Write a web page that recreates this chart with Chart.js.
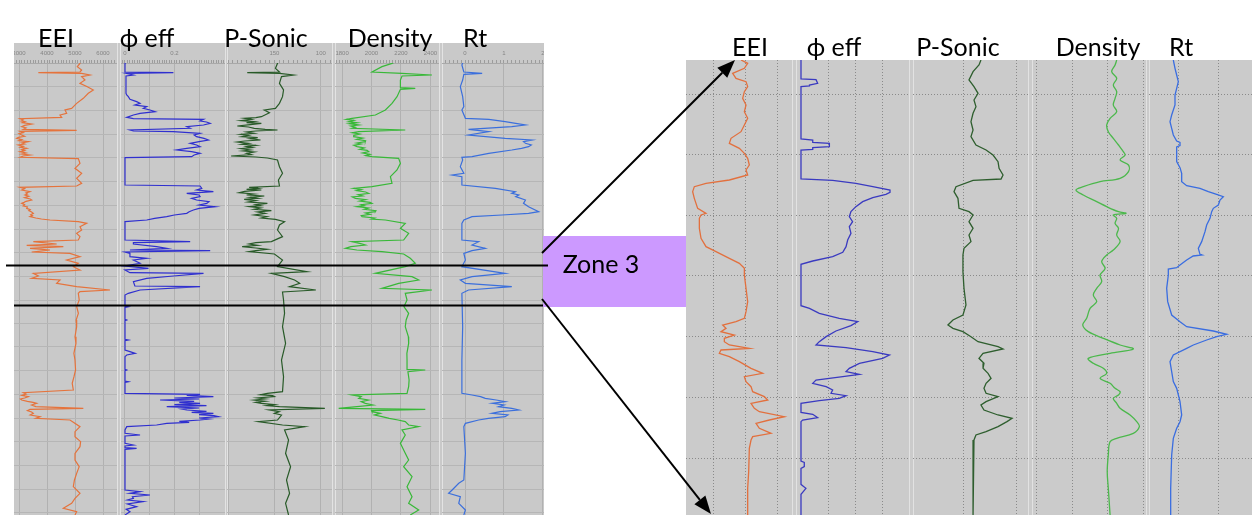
<!DOCTYPE html>
<html><head><meta charset="utf-8">
<script src="https://cdn.jsdelivr.net/npm/chart.js@4.4.1/dist/chart.umd.min.js"></script>
<style>
html,body{margin:0;padding:0;background:#fff;}
body{position:relative;width:1252px;height:515px;overflow:hidden;}
.bg,.ln{position:absolute;}
canvas{position:absolute;display:block;}
svg{position:absolute;left:0;top:0;}
</style></head><body>
<div id="root"></div>
<svg id="ov" width="1252" height="515" xmlns="http://www.w3.org/2000/svg"></svg>
<script>
// ---------------- DATA (depth, value) ----------------
// Left panel (full interval)
const leftEEI = [[0,5118],[10,5178],[20,5083],[30,5237],[36,5178],[38,3690],[40,5237],[45,5535],[50,5237],[60,5356],[70,5178],[80,5440],[90,5654],[100,5475],[115,5297],[130,5059],[145,4880],[150,4642],[160,4702],[165,4464],[172,4523],[176,3036],[180,3150],[183,3080],[185,3214],[188,3120],[192,3452],[196,3200],[200,3095],[204,3250],[208,3155],[211,5059],[214,3036],[218,3150],[221,3000],[225,3095],[229,3200],[232,2980],[235,2917],[239,3100],[242,3000],[245,3333],[249,3100],[252,3200],[255,2976],[259,3150],[262,3050],[265,3274],[269,3100],[272,3200],[275,3036],[279,3250],[282,3100],[285,3393],[288,3150],[292,3036],[296,5118],[310,5178],[325,4999],[340,5237],[355,5059],[370,5237],[378,5059],[382,3036],[386,3200],[390,3100],[395,3393],[399,3250],[402,3300],[405,3214],[409,3350],[413,3200],[417,3400],[420,3452],[424,3250],[427,3180],[430,3095],[434,3200],[438,3150],[441,3300],[445,3274],[449,3400],[452,3350],[456,3450],[460,3512],[464,3420],[467,3480],[470,3393],[474,3600],[477,3800],[480,4107],[485,5118],[490,5416],[500,5178],[510,5237],[520,5059],[530,5178],[540,5118],[545,3512],[552,4345],[556,3274],[560,4583],[565,3393],[570,4107],[576,3452],[580,4820],[590,5178],[600,4702],[610,5118],[620,4940],[630,5178],[640,3512],[648,3690],[655,3452],[660,4464],[670,4345],[680,5059],[690,6250],[695,5178],[700,5118],[720,5150],[740,5060],[760,5120],[780,5040],[800,5059],[830,5000],[850,5035],[880,4960],[900,4999],[930,5020],[950,4964],[970,4900],[990,4940],[998,3155],[1002,3250],[1006,3100],[1010,3333],[1014,3200],[1017,3050],[1020,3095],[1024,3300],[1027,3500],[1030,3631],[1035,3450],[1040,3600],[1045,5297],[1048,3393],[1052,3300],[1056,3450],[1060,3512],[1065,3400],[1070,3750],[1075,3600],[1080,4820],[1100,5178],[1115,5000],[1130,4999],[1145,5200],[1160,5178],[1180,5000],[1200,4999],[1220,5150],[1240,5059],[1260,4980],[1280,4940],[1300,5178],[1315,5000],[1330,4880],[1345,4583],[1355,5059],[1365,4999]];
const leftPhi = [[0,0],[5,0.008],[10,0],[36,0],[38,0.196],[40,0.004],[45,0.034],[48,0.004],[100,0.004],[105,0.007],[110,0.0135],[118,0.02],[125,0.047],[130,0.061],[135,0.04],[140,0.088],[145,0.074],[150,0.101],[155,0.122],[160,0.061],[165,0.034],[172,0.007],[176,0.034],[178,0.318],[183,0.304],[186,0.33],[190,0.345],[195,0.318],[200,0.25],[205,0.264],[210,0.02],[213,0.034],[215,0.196],[220,0.304],[225,0.28],[230,0.29],[235,0.32],[240,0.338],[245,0.3],[250,0.264],[255,0.29],[260,0.304],[265,0.25],[270,0.209],[275,0.27],[280,0.304],[285,0.28],[290,0.27],[293,0],[375,0],[378,0.304],[385,0.311],[390,0.29],[395,0.358],[400,0.25],[405,0.3],[410,0.304],[415,0.27],[420,0.29],[425,0.34],[430,0.331],[435,0.3],[440,0.365],[445,0.3],[450,0.277],[455,0.26],[460,0.25],[465,0.2],[470,0.169],[475,0.12],[480,0.088],[485,0],[540,0],[545,0.264],[548,0.034],[552,0.034],[560,0.128],[565,0.169],[570,0.02],[572,0.345],[576,0],[580,0.02],[590,0.02],[595,0.088],[600,0.034],[610,0.061],[618,0],[625,0.095],[630,0],[638,0.02],[640,0.318],[648,0.196],[655,0.088],[665,0.034],[678,0.04],[680,0.304],[690,0.061],[700,0.0135],[705,0],[738,0],[740,0.0135],[742,0],[778,0],[780,0.007],[782,0],[838,0],[840,0.0135],[842,0],[870,0],[875,0.02],[880,0.041],[885,0.007],[890,0],[928,0],[930,0.007],[932,0],[963,0],[965,0.0135],[967,0],[1000,0],[1003,0.304],[1006,0.25],[1010,0.358],[1014,0.2],[1017,0.3],[1020,0.142],[1024,0.28],[1027,0.22],[1030,0.304],[1034,0.2],[1037,0.33],[1040,0.169],[1044,0.3],[1047,0.23],[1050,0.25],[1054,0.33],[1057,0.27],[1060,0.358],[1064,0.3],[1067,0.36],[1070,0.378],[1074,0.3],[1077,0.34],[1080,0.304],[1084,0.22],[1087,0.26],[1090,0.169],[1095,0.128],[1100,0.007],[1110,0],[1120,0],[1125,0.061],[1128,0],[1150,0],[1155,0.034],[1158,0],[1163,0],[1165,0.047],[1168,0],[1290,0],[1295,0.061],[1300,0.02],[1305,0.101],[1310,0.03],[1315,0.034],[1320,0.01],[1325,0.074],[1332,0.01],[1340,0.047],[1348,0.005],[1355,0.02],[1365,0]];
const leftSonic = [[0,146.7],[10,146.7],[25,148.9],[36,144.6],[38,179.3],[40,144.6],[45,129.3],[50,142.4],[70,144.6],[90,140.2],[110,141.3],[130,144.6],[145,148.9],[150,160.9],[158,155.4],[170,164.1],[173,170],[175,182],[178,175],[182,186],[185,172],[188,180],[190,164.1],[194,176],[198,190],[201,178],[205,171.7],[208,160],[210,146.7],[213,170],[216,180],[220,172],[223,186],[226,178],[230,185],[233,168],[236,176],[240,165],[243,182],[246,190],[250,178],[253,185],[256,170],[260,180],[263,174],[266,186],[270,176],[273,184],[276,172],[280,180],[284,175],[288,196.7],[291,170],[294,157.6],[300,146.7],[320,144.6],[340,141.3],[360,145.7],[378,144.6],[382,177.2],[385,168],[388,180],[390,164.1],[394,182],[398,188],[402,172],[405,180],[408,160.9],[412,176],[415,168],[418,182.6],[422,170],[426,178],[430,157.6],[434,170],[437,165],[440,177.2],[444,165],[448,172],[452,153.3],[456,168],[460,160],[465,171.7],[470,158],[474,164],[478,148.9],[485,139.1],[495,144.6],[510,146.7],[530,141.3],[545,153.3],[548,170],[552,177.2],[556,168],[560,184.8],[564,170],[568,157.6],[572,170],[575,177.2],[582,150],[600,141.3],[620,146.7],[635,115.2],[640,153.3],[650,139.1],[660,128.3],[670,122.8],[680,133.7],[690,105.4],[696,141.3],[720,140.2],[760,139.1],[800,141.3],[850,138],[900,142.4],[950,140.2],[995,141.3],[1000,157.6],[1004,165],[1007,152],[1010,150],[1014,168],[1017,160],[1020,171.7],[1024,160],[1027,170],[1030,164.1],[1034,150],[1037,158],[1040,144.6],[1045,95.7],[1050,155.4],[1055,145],[1060,150],[1065,142.4],[1080,146.7],[1085,167.4],[1095,141.3],[1100,117.4],[1110,139.1],[1140,134.8],[1180,138],[1220,132.6],[1260,137],[1300,133.7],[1330,138],[1365,134.8]];
const leftDensity = [[0,2184],[10,2139],[20,2071],[36,2003],[40,2207],[45,2410],[48,2207],[60,2196],[83,2196],[85,2297],[88,2196],[110,2173],[130,2139],[150,2094],[165,2026],[175,1868],[178,1830],[181,1880],[185,1845],[188,1900],[191,1850],[195,1913],[198,1860],[202,1890],[205,1868],[210,2229],[215,1913],[218,1870],[222,1920],[226,1880],[230,1879],[234,1940],[238,1900],[242,1960],[245,1958],[249,1900],[252,1930],[256,1880],[260,1902],[264,1950],[268,1920],[271,1970],[275,1981],[279,1940],[283,1990],[287,1960],[290,2003],[295,2184],[310,2196],[330,2173],[350,2128],[370,2139],[380,2003],[385,1879],[389,1930],[392,1900],[396,1960],[400,1981],[404,1910],[408,1940],[411,1870],[415,1890],[419,1960],[423,1920],[427,1990],[430,2003],[434,1930],[437,1950],[440,1902],[444,1980],[448,1950],[452,2030],[455,2026],[459,1960],[463,1990],[467,1930],[470,1936],[474,2020],[477,2000],[480,2094],[490,2229],[505,2196],[520,2252],[540,2218],[545,1868],[550,1920],[555,1958],[560,1860],[565,1823],[570,1900],[575,2071],[582,2218],[595,2263],[610,2297],[620,2229],[640,2026],[650,2275],[660,2320],[670,2184],[685,2071],[690,2410],[700,2229],[720,2241],[740,2220],[760,2252],[780,2235],[800,2229],[830,2250],[850,2252],[880,2240],[900,2241],[928,2241],[930,2365],[935,2247],[960,2255],[980,2252],[1000,2241],[1005,1868],[1010,1930],[1015,1913],[1020,1980],[1025,1930],[1030,1958],[1035,2010],[1040,1900],[1045,1777],[1048,2365],[1052,2000],[1055,2003],[1060,2060],[1065,2020],[1070,2071],[1075,2120],[1080,2180],[1085,2229],[1095,2252],[1100,2320],[1110,2207],[1125,2229],[1150,2196],[1180,2229],[1200,2252],[1220,2218],[1250,2275],[1280,2241],[1310,2275],[1330,2252],[1350,2320],[1365,2263]];
const leftRt = [[0,-0.03],[15,-0.08],[36,-0.03],[40,0.44],[43,-0.03],[60,-0.06],[80,-0.12],[110,-0.06],[140,-0.03],[150,-0.08],[175,0.01],[178,0.61],[185,1.03],[190,1.3],[195,1.55],[200,1.2],[208,0.09],[215,0.61],[225,0.09],[235,1.03],[240,1.72],[245,1.5],[250,1.55],[255,1.7],[260,1.63],[265,1.45],[270,1.2],[280,0.61],[290,0.18],[292,-0.08],[300,-0.06],[320,-0.12],[340,-0.03],[345,-0.33],[350,-0.08],[375,-0.08],[385,0.78],[395,1.29],[400,1.2],[405,1.38],[410,1.3],[420,1.55],[430,1.5],[440,1.63],[455,1.89],[460,1.63],[465,0.95],[470,0.18],[480,-0.03],[490,-0.08],[540,-0.08],[545,0.35],[555,0.18],[565,0.52],[572,0.18],[580,-0.03],[600,0.01],[620,-0.08],[640,1.03],[650,0.18],[660,-0.12],[670,0.01],[680,1.2],[690,0.09],[700,-0.08],[800,-0.06],[900,-0.08],[1000,-0.08],[1005,0.18],[1010,0.4],[1015,0.52],[1020,0.8],[1025,1.03],[1030,0.7],[1035,1.0],[1040,0.86],[1045,1.2],[1050,1.38],[1055,0.9],[1060,0.69],[1065,1.1],[1070,1.03],[1075,0.6],[1080,0.35],[1090,0.01],[1100,-0.03],[1180,0.01],[1260,-0.03],[1270,-0.16],[1290,-0.33],[1300,-0.42],[1310,-0.12],[1330,-0.16],[1350,0.01],[1365,-0.03]];

// Right panel (Zone 3 detail)
const zoneEEI = [[15,4862],[25,5067],[40,4965],[55,4605],[70,4708],[80,5016],[95,5067],[110,4965],[130,4913],[150,5016],[170,4965],[190,5067],[210,4965],[230,4862],[250,4554],[265,4503],[280,4811],[295,4965],[310,5067],[330,5118],[345,5016],[360,5067],[375,4503],[385,3785],[395,3425],[410,3374],[430,3425],[460,3528],[475,3785],[480,3631],[490,3580],[520,3580],[550,3631],[575,3785],[590,4092],[610,4503],[625,4811],[640,4965],[660,4965],[700,5016],[740,5067],[770,5016],[790,4965],[800,4708],[810,4298],[820,4400],[830,4246],[840,4657],[850,4349],[860,4349],[870,4503],[880,5118],[885,4246],[895,4195],[905,4503],[920,4811],[940,5170],[955,5529],[965,4965],[980,5016],[995,5170],[1010,5221],[1025,5580],[1035,5683],[1045,5170],[1060,5272],[1070,5426],[1085,6196],[1095,5734],[1105,5324],[1120,5426],[1135,5785],[1145,5221],[1155,5170],[1180,5118],[1250,5098],[1300,5067],[1380,5067]];
const zonePhi = [[15,0],[72,0],[74,0.055],[85,0.061],[90,0.031],[93,0.031],[95,0],[252,0],[255,0.043],[262,0.043],[265,0.104],[275,0.104],[278,0.043],[283,0.043],[285,0],[372,0],[376,0.116],[385,0.201],[395,0.263],[405,0.326],[412,0.326],[418,0.311],[428,0.263],[440,0.226],[455,0.201],[470,0.183],[485,0.177],[500,0.189],[515,0.177],[535,0.183],[555,0.171],[575,0.165],[592,0.153],[605,0.116],[618,0.043],[628,0],[752,0],[760,0.031],[775,0.067],[790,0.14],[800,0.208],[812,0.183],[828,0.128],[845,0.092],[860,0.067],[870,0.055],[878,0.165],[890,0.263],[900,0.324],[910,0.299],[925,0.214],[940,0.177],[950,0.165],[958,0.214],[965,0.153],[975,0.055],[985,0.043],[995,0.092],[1005,0.116],[1015,0.11],[1022,0.165],[1030,0.14],[1037,0.067],[1045,0],[1072,0],[1078,0.043],[1088,0.061],[1095,0.006],[1100,0],[1218,0],[1222,0.012],[1235,0.012],[1240,0],[1288,0],[1292,0.006],[1300,0.018],[1312,0.006],[1318,0],[1380,0]];
const zoneSonic = [[15,133.7],[30,135.6],[50,141.3],[75,145.2],[95,140.4],[115,136.5],[135,140.4],[155,138.5],[175,141.3],[200,143.3],[225,141.3],[245,143.3],[270,138.5],[285,128.8],[300,122.1],[320,117.3],[340,116.3],[360,112.5],[372,114.4],[376,141.3],[395,157.7],[410,159.6],[430,155.8],[460,154.8],[470,145.2],[480,141.3],[500,145.2],[520,141.3],[540,145.2],[560,143.3],[580,150],[600,151],[650,151],[700,150],[750,148.1],[780,151],[795,160.6],[810,165.4],[820,160.6],[830,151],[845,143.3],[860,136.5],[875,117.3],[882,112.5],[895,131.7],[910,135.6],[925,130.8],[940,131.7],[955,126.9],[970,124],[985,128.8],[1000,130.8],[1015,128.8],[1025,117.3],[1040,128.8],[1050,133.7],[1065,130.8],[1080,117.3],[1090,103.8],[1100,108.7],[1115,117.3],[1130,128.8],[1140,138.5],[1155,140.4],[1200,141.3],[1300,141.3],[1380,141.3]];
const zoneDensity = [[15,2250],[30,2241],[50,2222],[70,2250],[90,2231],[110,2250],[130,2241],[150,2231],[170,2250],[190,2213],[210,2194],[230,2203],[250,2231],[270,2260],[290,2287],[300,2297],[315,2269],[330,2316],[350,2316],[370,2269],[380,2157],[395,2063],[405,2022],[420,2063],[440,2138],[455,2194],[470,2260],[475,2302],[480,2231],[490,2250],[505,2241],[520,2260],[540,2250],[560,2269],[585,2231],[600,2194],[620,2166],[640,2185],[660,2157],[680,2166],[700,2138],[720,2119],[740,2138],[760,2101],[790,2082],[810,2060],[830,2091],[850,2175],[870,2269],[882,2343],[895,2213],[910,2091],[925,2119],[940,2175],[955,2194],[970,2157],[985,2213],[1000,2241],[1010,2269],[1020,2260],[1030,2231],[1045,2250],[1060,2269],[1080,2325],[1100,2362],[1115,2377],[1135,2343],[1150,2250],[1160,2213],[1200,2203],[1250,2197],[1300,2203],[1380,2213]];
const zoneRt = [[15,-0.117],[40,-0.075],[60,-0.033],[80,0.008],[100,-0.033],[120,-0.075],[150,-0.075],[180,-0.158],[200,-0.2],[220,-0.158],[240,-0.117],[258,-0.033],[262,0.05],[272,0.05],[276,-0.033],[300,-0.033],[320,-0.033],[338,0.05],[355,0.092],[380,0.092],[392,0.217],[400,0.55],[410,0.758],[418,0.967],[425,1.133],[435,1.05],[450,1.008],[460,0.883],[470,0.842],[490,0.8],[510,0.717],[530,0.675],[560,0.592],[580,0.508],[598,0.55],[600,0.6],[603,0.38],[615,0.217],[630,0.05],[638,-0.033],[642,-0.242],[660,-0.242],[700,-0.283],[740,-0.258],[780,-0.158],[800,0.05],[815,0.217],[828,0.883],[838,1.217],[845,0.967],[855,0.717],[870,0.383],[880,0.217],[900,-0.117],[920,-0.2],[950,-0.158],[980,-0.117],[1000,-0.033],[1040,0.05],[1080,0.092],[1100,0.05],[1120,-0.033],[1150,-0.117],[1200,-0.158],[1300,-0.183],[1380,-0.183]];

// Axis tick values / labels
const eeiTicks = [3000,4000,5000,6000];
const eeiLabels = ['3000','4000','5000','6000'];
const phiTicks = [0,0.1,0.2,0.3];
const phiLabelVals = [0,0.2];
const phiLabels = ['0','0.2'];
const sonicTicks = [200,150,100];
const sonicLabelVals = [150,100];
const sonicLabels = ['150','100'];
const densTicks = [1800,2000,2200,2400];
const densLabels = ['1800','2000','2200','2400'];
const rtTicks = [0,1,2];
const rtLabels = ['0','1','2'];
const leftDepthGrid = [80,150,222,292,365,435,507,577,650,720,790,860,932,1003,1075,1145,1215,1287,1358];
const rightDepthGrid = [117,298,480,662,845,1027,1210];
const zoneEeiGrid = [4000,5000,6000];
const zonePhiGrid = [0.1,0.2,0.3];
const zoneSonicGrid = [150,100];
const zoneDensGrid = [1800,2000,2200,2400];
const zoneRtGrid = [0,1];

const trackTitles = ['EEI','\u03D5 eff','P-Sonic','Density','Rt'];

// ---------------- LAYOUT ----------------
const C = {eei:'#e5733c', phi:'#2f2fcf', sonic:'#285a28', dens:'#38b838', rt:'#3b6fdc'};
const leftTracks = [
  {data:leftEEI, x0:14, x1:117, min:2821, max:6500, color:C.eei, grid:eeiTicks, lv:eeiTicks, lt:eeiLabels, minor:100},
  {data:leftPhi, x0:121, x1:225, min:-0.0162, max:0.405, color:C.phi, grid:phiTicks, lv:phiLabelVals, lt:phiLabels, minor:0.01},
  {data:leftSonic, x0:227, x1:332, min:88, max:201.1, reverse:true, color:C.sonic, grid:sonicTicks, lv:sonicLabelVals, lt:sonicLabels, minor:5},
  {data:leftDensity, x0:335, x1:439, min:1752, max:2458, color:C.dens, grid:densTicks, lv:densTicks, lt:densLabels, minor:20},
  {data:leftRt, x0:442, x1:544, min:-0.59, max:2.026, color:C.rt, grid:rtTicks, lv:rtTicks, lt:rtLabels, minor:0.1}
];
const rightTracks = [
  {data:zoneEEI, x0:686, x1:792, min:3169, max:6431, color:'#e2703e', grid:zoneEeiGrid},
  {data:zonePhi, x0:796, x1:909, min:-0.0183, max:0.3956, color:'#3a3ac0', grid:zonePhiGrid},
  {data:zoneSonic, x0:913, x1:1028, min:88.5, max:199, reverse:true, color:'#2e5e2e', grid:zoneSonicGrid},
  {data:zoneDensity, x0:1032, x1:1146, min:1776, max:2414, color:'#4cb84c', grid:zoneDensGrid, tension:0.35},
  {data:zoneRt, x0:1149, x1:1252, min:-0.725, max:1.85, color:'#3a6de0', grid:zoneRtGrid}
];
const root = document.getElementById('root');
function addDiv(x,y,w,h,color){const d=document.createElement('div');d.className='bg';Object.assign(d.style,{left:x+'px',top:y+'px',width:w+'px',height:h+'px',background:color});root.appendChild(d);}
addDiv(14,43,530,472,'#c9c9c9');
addDiv(686,60,566,455,'#cbcbcb');
[117,120,225,227,332,335,439,442].forEach(x=>addDiv(x,43,1,472,'#e3e3e3'));
[792,796,909,913,1028,1032,1146,1149].forEach(x=>addDiv(x,60,1,455,'#e2e2e2'));

function buildTicks(min,max,minor,grid){
  const lo=Math.min(min,max), hi=Math.max(min,max), out=[];
  for(let k=Math.ceil(lo/minor-1e-9); k*minor<=hi+1e-9; k++) out.push(+(k*minor).toFixed(6));
  grid.forEach(g=>{ if(!out.some(v=>Math.abs(v-g)<minor*0.01)) out.push(g); });
  return out.sort((a,b)=>a-b);
}

function makeChart(t, left){
  const cv=document.createElement('canvas');
  const top = left?43:60, h = left?472:455, w=t.x1-t.x0;
  cv.width=w; cv.height=h;
  Object.assign(cv.style,{left:t.x0+'px',top:top+'px',width:w+'px',height:h+'px'});
  root.appendChild(cv);
  const tol=(t.max-t.min)*1e-4;
  const isGrid=v=>t.grid.some(g=>Math.abs(g-v)<tol);
  const xTicks = left ? buildTicks(t.min,t.max,t.minor,t.grid) : t.grid.slice();
  const depthGrid = left ? leftDepthGrid : rightDepthGrid;
  const xScale = left ? {
    type:'linear', position:'top', min:t.min, max:t.max, reverse:!!t.reverse,
    afterBuildTicks:s=>{s.ticks=xTicks.map(v=>({value:v}));},
    afterFit:s=>{s.height=20;s.paddingLeft=0;s.paddingRight=0;},
    ticks:{autoSkip:false,maxRotation:0,minRotation:0,padding:3,color:'#858585',font:{family:'Liberation Sans',size:6},
      callback:v=>{const i=t.lv.findIndex(l=>Math.abs(l-v)<tol);return i>=0?t.lt[i]:'';}},
    grid:{drawOnChartArea:true,drawTicks:true,tickLength:3,lineWidth:1,
      color:c=>(c.tick&&isGrid(c.tick.value))?'#b1b1b1':'rgba(0,0,0,0)',tickColor:'#9c9c9c'},
    border:{display:true,color:'#a9a9a9'}
  } : {
    type:'linear', position:'bottom', min:t.min, max:t.max, reverse:!!t.reverse,
    afterBuildTicks:s=>{s.ticks=xTicks.map(v=>({value:v}));},
    afterFit:s=>{s.height=0;s.paddingLeft=0;s.paddingRight=0;},
    ticks:{display:false},
    grid:{drawTicks:false,lineWidth:1,color:'#8a8a8a'},
    border:{display:false,dash:[1,2]}
  };
  return new Chart(cv,{
    type:'line',
    data:{datasets:[{data:t.data.map(p=>({x:p[1],y:p[0]})),borderColor:t.color,borderWidth:left?1.2:1.3,
      pointRadius:0,tension:t.tension||0,fill:false}]},
    options:{
      animation:false,responsive:false,maintainAspectRatio:false,indexAxis:'y',events:[],
      layout:{padding:0},
      plugins:{legend:{display:false},tooltip:{enabled:false},title:{display:false}},
      scales:{
        x:xScale,
        y:{type:'linear',min:left?9:15,max:left?1365:1380,reverse:true,
          afterBuildTicks:s=>{s.ticks=depthGrid.map(v=>({value:v}));},
          afterFit:s=>{s.width=0;},
          ticks:{display:false},
          grid:{drawTicks:false,lineWidth:1,color:left?'#b6b6b6':'#8a8a8a'},
          border:{display:false,dash:left?[]:[1,2]}}
      }
    }
  });
}
leftTracks.forEach(t=>makeChart(t,true));
rightTracks.forEach(t=>makeChart(t,false));

// ---------------- OVERLAY ----------------
const NS='http://www.w3.org/2000/svg', ov=document.getElementById('ov');
function el(tag,attrs,text){const e=document.createElementNS(NS,tag);for(const k in attrs)e.setAttribute(k,attrs[k]);if(text!==undefined)e.textContent=text;ov.appendChild(e);return e;}
const FONT="Lato, 'Open Sans', 'Noto Sans', sans-serif";
const leftTitleX=[56,147,266,390,475], rightTitleX=[750,834,958,1098,1181];
trackTitles.forEach((s,i)=>{
  el('text',{x:leftTitleX[i],y:47,'text-anchor':'middle','font-family':FONT,'font-size':25,fill:'#000'},s);
  el('text',{x:rightTitleX[i],y:56,'text-anchor':'middle','font-family':FONT,'font-size':25,fill:'#000'},s);
});
el('rect',{x:543,y:236,width:143,height:71,fill:'#cc99ff'});
el('text',{x:601,y:273,'text-anchor':'middle','font-family':FONT,'font-size':25,fill:'#000'},'Zone 3');
el('line',{x1:6,y1:265.5,x2:548,y2:265.5,stroke:'#000','stroke-width':2});
el('line',{x1:14,y1:305.5,x2:543,y2:305.5,stroke:'#000','stroke-width':2});
function arrow(x1,y1,x2,y2){
  const dx=x2-x1, dy=y2-y1, L=Math.hypot(dx,dy), ux=dx/L, uy=dy/L, hl=18, hw=7;
  const bx=x2-ux*hl, by=y2-uy*hl;
  el('line',{x1:x1,y1:y1,x2:bx,y2:by,stroke:'#000','stroke-width':2});
  el('polygon',{points:`${x2},${y2} ${bx-uy*hw},${by+ux*hw} ${bx+uy*hw},${by-ux*hw}`,fill:'#000'});
}
arrow(542,253,735,60);
arrow(542,299,711,514);
</script>
</body></html>
